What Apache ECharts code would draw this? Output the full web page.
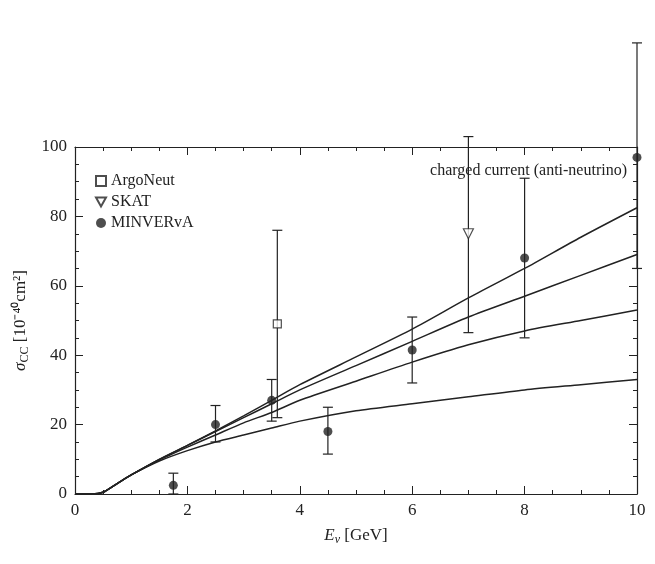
<!DOCTYPE html><html><head><meta charset="utf-8"><script src="https://cdn.jsdelivr.net/npm/echarts@6/dist/echarts.min.js"></script></head><body style="margin:0"><div id="c" style="width:655px;height:564px"></div><script>
const curveX=[0,0.3,0.5,0.75,1,1.5,2,2.5,3,3.5,4,5,6,7,8,9,10];
const curve1=[0,0,0.5,3,5.5,10,14,18.2,22.5,27,31.5,39.5,47.5,56.5,65,74,82.5];
const curve2=[0,0,0.5,3,5.5,10,14,18,22,26,30,37,44,51,57,63,69];
const curve3=[0,0,0.5,3,5.5,9.8,13.5,17,20.5,23.5,27,32.5,38,43,47,50,53];
const curve4=[0,0,0.5,3,5.5,9.5,12.5,15,17,19,21,24,26,28,30,31.5,33];
const minervaX=[1.75,2.5,3.5,4.5,6,8,10];
const minervaY=[2.5,20,27,18,41.5,68,97];
const minervaLo=[0,15,21,11.5,32,45,65];
const minervaHi=[6,25.5,33,25,51,91,130];
const argoX=[3.6],argoY=[49],argoLo=[22],argoHi=[76];
const skatX=[7],skatY=[75],skatLo=[46.5],skatHi=[103];
const font='Liberation Serif';
const tri='path://M0,0L10,0L5,9Z';
function line(d){return{type:'line',data:curveX.map((x,i)=>[x,d[i]]),symbol:'none',smooth:0.25,lineStyle:{color:'#222',width:1.5},z:2,silent:true};}
function err(xs,lo,hi){return{type:'custom',data:xs.map((x,i)=>[x,lo[i],hi[i]]),clip:false,z:3,renderItem:(p,api)=>{const a=api.coord([api.value(0),api.value(1)]),b=api.coord([api.value(0),api.value(2)]);const w=5;const s={stroke:'#222',lineWidth:1.2};return{type:'group',children:[{type:'line',shape:{x1:a[0],y1:a[1],x2:b[0],y2:b[1]},style:s},{type:'line',shape:{x1:a[0]-w,y1:a[1],x2:a[0]+w,y2:a[1]},style:s},{type:'line',shape:{x1:b[0]-w,y1:b[1],x2:b[0]+w,y2:b[1]},style:s}]};}};}
const ax={min:0,axisLine:{show:true,onZero:false,lineStyle:{color:'#222',width:1.2}},axisTick:{inside:true,length:8,lineStyle:{color:'#222'}},minorTick:{show:true,splitNumber:4,length:4,lineStyle:{color:'#222'}},splitLine:{show:false},axisLabel:{color:'#222',fontFamily:font,fontSize:17}};
const ch=echarts.init(document.getElementById('c'));
ch.setOption({animation:false,
grid:{left:75,right:18,top:147,bottom:70},
legend:{orient:'vertical',left:90,top:168,itemGap:5,itemWidth:10,itemHeight:10,textStyle:{fontFamily:font,fontSize:16,color:'#222'},data:['ArgoNeut','SKAT','MINVERvA']},
graphic:[{type:'text',right:28,top:163,style:{text:'charged current (anti-neutrino)',font:'16px "Liberation Serif"',fill:'#222'}}],
xAxis:[Object.assign({},ax,{type:'value',max:10,interval:2,name:'{i|E}{s|ν} [GeV]',nameLocation:'middle',nameGap:32,nameTextStyle:{fontFamily:font,fontSize:17,color:'#222',rich:{i:{fontStyle:'italic',fontFamily:font,fontSize:17},s:{fontStyle:'italic',fontFamily:font,fontSize:12,padding:[8,0,0,0]}}}}),
Object.assign({},ax,{type:'value',position:'top',max:10,interval:2,axisLabel:{show:false}})],
yAxis:[Object.assign({},ax,{type:'value',max:100,interval:20,name:'{i|σ}{s|CC} [10⁻⁴⁰cm²]',nameLocation:'middle',nameGap:40,nameTextStyle:{fontFamily:font,fontSize:17,color:'#222',rich:{i:{fontStyle:'italic',fontFamily:font,fontSize:17},s:{fontFamily:font,fontSize:12,padding:[8,0,0,0]}}}}),
Object.assign({},ax,{type:'value',position:'right',max:100,interval:20,axisLabel:{show:false}})],
series:[line(curve1),line(curve2),line(curve3),line(curve4),
err(argoX,argoLo,argoHi),err(skatX,skatLo,skatHi),err(minervaX,minervaLo,minervaHi),
{name:'ArgoNeut',type:'scatter',data:argoX.map((x,i)=>[x,argoY[i]]),symbol:'rect',symbolSize:8,itemStyle:{color:'#fff',borderColor:'#222',borderWidth:1.2},z:5},
{name:'SKAT',type:'scatter',data:skatX.map((x,i)=>[x,skatY[i]]),symbol:tri,symbolSize:10,itemStyle:{color:'#fff',borderColor:'#222',borderWidth:1.2},z:5},
{name:'MINVERvA',type:'scatter',data:minervaX.map((x,i)=>[x,minervaY[i]]),symbol:'circle',symbolSize:9,itemStyle:{color:'#222'},z:5,clip:false}]});
</script></body></html>
